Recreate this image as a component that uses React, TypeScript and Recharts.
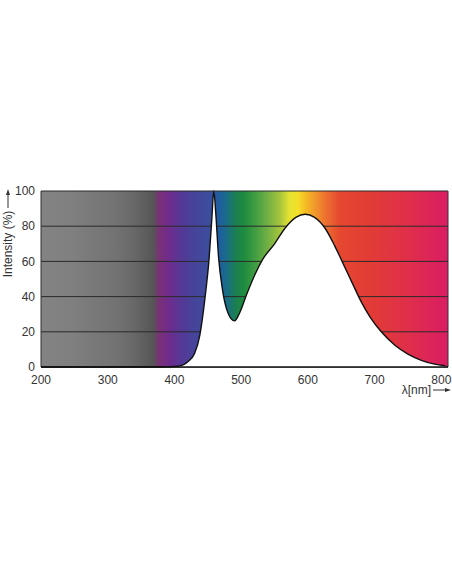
import { AreaChart, Area, XAxis, YAxis, CartesianGrid, ReferenceLine, Label } from "recharts";

// wavelength (nm) and relative intensity (%)
const wavelengths = [
  200, 300, 380, 405, 420, 430, 438, 446, 452, 456, 459, 462, 466, 472, 480, 490, 498, 508, 520,
  532, 550, 566, 582, 596, 610, 626, 640, 655, 668, 680, 693, 710, 730, 750, 770, 790, 806,
];
const intensity = [
  0, 0, 0, 0.4, 3, 7.5, 18, 40, 62, 84, 100, 87, 63, 44, 31, 26.2, 31, 41, 52,
  61, 70, 79, 85, 86.8, 85, 78.7, 69, 57, 46.5, 37, 28.5, 20, 12.5, 7.3, 3.8, 1.6, 0.7,
];

const xTicks = [200, 300, 400, 500, 600, 700, 800];
const yTicks = [0, 20, 40, 60, 80, 100];

// spectrum background colours by wavelength
const bandNm = [
  200, 250, 280, 310, 335, 355, 368, 378, 392, 410, 430, 455, 468, 480, 492, 505, 520, 540, 558,
  572, 585, 595, 610, 628, 648, 700, 750, 800, 810,
];
const bandColor = [
  "#838383", "#7f7f7f", "#787878", "#737373", "#6a6a6a", "#5e5e5e", "#565656", "#7a2f78",
  "#6e2c8c", "#553896", "#45449a", "#3b4f9e", "#1d5fa0", "#1a6f80", "#1a8050", "#1f8c3e",
  "#3e9c42", "#72b044", "#a6c43c", "#e4e232", "#f4e02a", "#f6c024", "#f19a2c", "#ec6e30",
  "#e5472f", "#e23a38", "#df2f4a", "#db1f5f", "#db1d62",
];

const X_MIN = 200;
const X_MAX = 810;

const data = wavelengths.map((nm, i) => ({ nm, v: intensity[i] }));

const font = "'Liberation Sans', Arial, sans-serif";

function YTitle() {
  return (
    <g>
      <text
        x={8}
        y={244}
        transform="rotate(-90 8 244)"
        textAnchor="middle"
        dominantBaseline="central"
        fontSize={12}
        fontFamily={font}
        fill="#333"
      >
        Intensity (%)
      </text>
      <line x1={8} y1={208} x2={8} y2={194} stroke="#333" strokeWidth={1} />
      <polygon points="8,189 6,195 10,195" fill="#333" />
    </g>
  );
}

function XTitle() {
  return (
    <g>
      <text x={431} y={390} textAnchor="end" dominantBaseline="central" fontSize={12} fontFamily={font} fill="#333">
        λ[nm]
      </text>
      <line x1={433} y1={390} x2={446} y2={390} stroke="#333" strokeWidth={1} />
      <polygon points="451,390 445,388 445,392" fill="#333" />
    </g>
  );
}

export default function App() {
  return (
    <div style={{ position: "absolute", left: 0, top: 0, background: "#fff" }}>
      <AreaChart width={452} height={584} data={data} margin={{ top: 191, right: 4, bottom: 187, left: 0 }}>
        <defs>
          <linearGradient id="spectrum" x1="0" y1="0" x2="1" y2="0">
            {bandNm.map((nm, i) => (
              <stop key={nm} offset={(nm - X_MIN) / (X_MAX - X_MIN)} stopColor={bandColor[i]} />
            ))}
          </linearGradient>
        </defs>

        <CartesianGrid vertical={false} stroke="#2a2a2a" strokeWidth={1} fill="url(#spectrum)" fillOpacity={1} />

        <XAxis
          type="number"
          dataKey="nm"
          domain={[X_MIN, X_MAX]}
          ticks={xTicks}
          height={30}
          tickLine={false}
          tickSize={6}
          tickMargin={2}
          axisLine={{ stroke: "#111", strokeWidth: 1.5 }}
          tick={{ fontSize: 12, fontFamily: font, fill: "#333" }}
        >
          <Label content={<XTitle />} />
        </XAxis>
        <YAxis
          type="number"
          domain={[0, 100]}
          ticks={yTicks}
          width={41}
          tickLine={false}
          tickSize={4}
          tickMargin={2}
          axisLine={{ stroke: "#333" }}
          tick={{ fontSize: 12, fontFamily: font, fill: "#333" }}
        >
          <Label content={<YTitle />} />
        </YAxis>

        <ReferenceLine x={X_MAX} stroke="#333" />

        <Area
          type="monotone"
          dataKey="v"
          stroke="#111"
          strokeWidth={1.4}
          fill="#ffffff"
          fillOpacity={1}
          isAnimationActive={false}
          dot={false}
          activeDot={false}
        />
      </AreaChart>
    </div>
  );
}
